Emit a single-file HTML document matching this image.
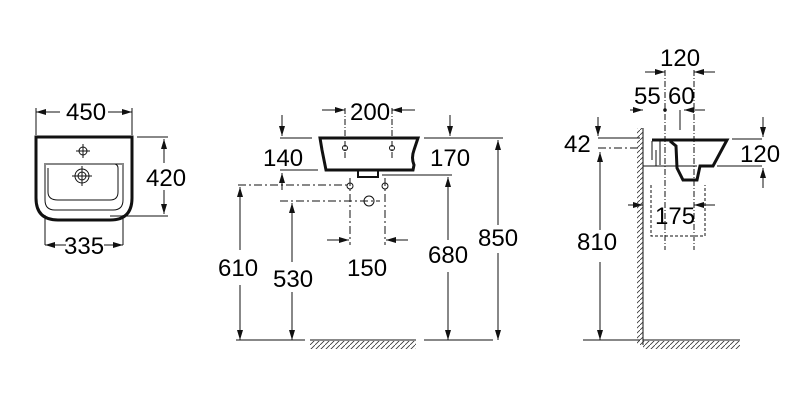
<!DOCTYPE html>
<html><head><style>body{margin:0;background:#fff}svg{display:block}text{font-family:"Liberation Sans",sans-serif;font-size:24px;fill:#000}</style></head><body>
<svg width="800" height="400" viewBox="0 0 800 400" xmlns="http://www.w3.org/2000/svg">
<defs>
<marker id="a" viewBox="0 0 10 6" refX="10" refY="3" markerWidth="10" markerHeight="6" markerUnits="userSpaceOnUse" orient="auto"><path d="M0,0L10,3L0,6z" fill="#111"/></marker>
<pattern id="h" width="5" height="5" patternUnits="userSpaceOnUse"><path d="M0,5L5,0" stroke="#333" stroke-width="0.8"/></pattern>
</defs>
<g stroke="#111" fill="none" stroke-width="1">
<path d="M36,137H132V198Q132,220 110,220H58Q36,220 36,198Z" stroke-width="3"/>
<path d="M45,163V200Q45,210 55,210H113Q123,210 123,200V163" />
<path d="M46,164H122M48,168V192Q48,200 58,200H110Q118,200 118,192V168Q118,165 115,164"/>
<circle cx="83" cy="151" r="4"/><path d="M76,151H90M83,144V158"/>
<circle cx="82" cy="176" r="7"/><circle cx="82" cy="176" r="4"/><path d="M72,176H92M82,166V186"/>
<path d="M36,108V135M132,108V135M45,215V245M123,215V245M137,137H168M110,216H168"/>
<path d="M60,112H36" marker-end="url(#a)"/><path d="M108,112H132" marker-end="url(#a)"/>
<path d="M164,163V139" marker-end="url(#a)"/><path d="M164,190V214" marker-end="url(#a)"/>
<path d="M66,245H45" marker-end="url(#a)"/><path d="M104,245H123" marker-end="url(#a)"/>
<path d="M320,138H418L414,150Q411,158 414,165L413,170H326L322,150Z" stroke-width="3"/>
<path d="M358,170V177H378V170" stroke-width="2"/>
<circle cx="345" cy="148" r="2.5"/><circle cx="392" cy="148" r="2.5"/>
<path d="M345,108V160M392,108V160" stroke-dasharray="6,2,1,2"/>
<path d="M322,110H345" marker-end="url(#a)"/><path d="M415,110H392" marker-end="url(#a)"/>
<path d="M280,138H312M280,170H318M424,138H503M382,175H452M236,340H305M424,340H493"/>
<path d="M282,115V136" marker-end="url(#a)"/><path d="M282,190V173" marker-end="url(#a)"/>
<path d="M450,115V136" marker-end="url(#a)"/>
<path d="M238,185H350M280,201H380M350,178V245M385,178V245" stroke-dasharray="8,3,2,3"/>
<circle cx="350" cy="186" r="3"/><circle cx="385" cy="186" r="3"/><circle cx="369" cy="201" r="5"/>
<path d="M327,240H349" marker-end="url(#a)"/><path d="M408,240H386" marker-end="url(#a)"/>
<path d="M240,250V187" marker-end="url(#a)"/><path d="M240,285V340" marker-end="url(#a)"/>
<path d="M292,262V203" marker-end="url(#a)"/><path d="M292,292V340" marker-end="url(#a)"/>
<path d="M448,240V177" marker-end="url(#a)"/><path d="M448,272V340" marker-end="url(#a)"/>
<path d="M498,225V140" marker-end="url(#a)"/><path d="M498,253V340" marker-end="url(#a)"/>
<path d="M310,340H416"/>
<path d="M643,128V345M643,340H740M583,340H640"/>
<path d="M652,140H727L713,166H700L697,180H683L677,168L676,146L670,141" stroke-width="3"/>
<path d="M652,141V160M660,141V165M656,150V166" />
<path d="M643,166H697M598,138H640"/>
<path d="M665,70V250M694,70V250" stroke-dasharray="6,2,1,2"/>
<path d="M598,148H643" stroke-dasharray="8,3,2,3"/>
<path d="M651,185V236H705V185" stroke-dasharray="3,2"/>
<path d="M645,72H665" marker-end="url(#a)"/><path d="M715,72H694" marker-end="url(#a)"/>
<path d="M630,110H643" marker-end="url(#a)"/><path d="M705,110H684" marker-end="url(#a)"/>
<path d="M680,110V130"/>
<path d="M598,117V136" marker-end="url(#a)"/><path d="M600,230V152" marker-end="url(#a)"/>
<path d="M600,262V340" marker-end="url(#a)"/>
<path d="M732,139H762M717,166H762"/>
<path d="M763,117V137" marker-end="url(#a)"/><path d="M763,188V168" marker-end="url(#a)"/>
<path d="M628,205H643" marker-end="url(#a)"/><path d="M715,205H694" marker-end="url(#a)"/>
</g>
<circle cx="665" cy="110" r="1.8" fill="#111"/>
<rect x="637" y="128" width="6" height="217" fill="url(#h)"/>
<rect x="643" y="341" width="97" height="8" fill="url(#h)"/>
<rect x="310" y="341" width="106" height="8" fill="url(#h)"/>
<g>
<text x="66" y="120">450</text><text x="146" y="186">420</text><text x="64" y="254">335</text>
<text x="350" y="120">200</text><text x="263" y="166">140</text><text x="430" y="166">170</text>
<text x="218" y="276">610</text><text x="273" y="287">530</text><text x="347" y="276">150</text>
<text x="428" y="263">680</text><text x="478" y="246">850</text>
<text x="660" y="66">120</text><text x="634" y="104">55</text><text x="668" y="104">60</text>
<text x="564" y="152">42</text><text x="740" y="162">120</text><text x="655" y="224">175</text>
<text x="577" y="250">810</text>
</g>
</svg>
</body></html>
